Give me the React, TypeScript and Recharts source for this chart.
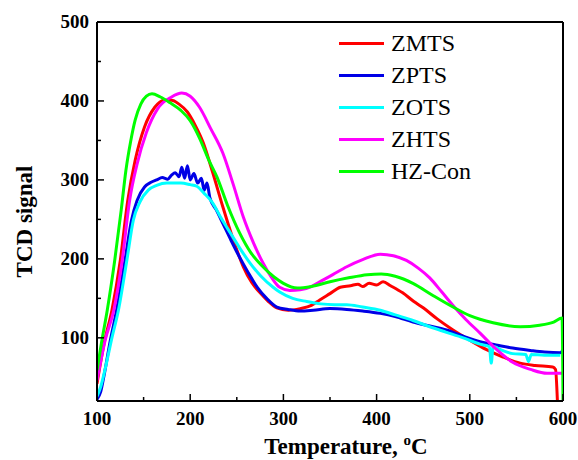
import { Legend, Line, LineChart, ReferenceLine, XAxis, YAxis } from "recharts";

const FONT = "Liberation Serif, Times New Roman, serif";

const xTicks = [100, 150, 200, 250, 300, 350, 400, 450, 500, 550, 600];
const yTicks = [100, 150, 200, 250, 300, 350, 400, 450, 500];

const zmts = [
  { t: 100, v: 42 }, { t: 108, v: 95 }, { t: 116, v: 135 }, { t: 125, v: 198 }, { t: 133, v: 274 },
  { t: 141, v: 325 }, { t: 151, v: 367 }, { t: 162, v: 392 }, { t: 172, v: 401 }, { t: 180, v: 401 },
  { t: 188, v: 396 }, { t: 197, v: 386 }, { t: 205, v: 370 }, { t: 214, v: 347 },
  { t: 224, v: 310 }, { t: 235, v: 266 }, { t: 246, v: 225 }, { t: 257, v: 190 }, { t: 266, v: 170 },
  { t: 275, v: 157 }, { t: 284, v: 146 }, { t: 293, v: 138 }, { t: 305, v: 135 }, { t: 318, v: 137 },
  { t: 330, v: 141 }, { t: 339, v: 148 }, { t: 350, v: 156 }, { t: 361, v: 164 }, { t: 372, v: 166 },
  { t: 380, v: 168 }, { t: 385, v: 165 }, { t: 392, v: 169 }, { t: 400, v: 167 }, { t: 407, v: 171 },
  { t: 415, v: 166 }, { t: 428, v: 157 }, { t: 440, v: 146 }, { t: 450, v: 138 }, { t: 465, v: 124 },
  { t: 482, v: 110 }, { t: 500, v: 97 }, { t: 518, v: 85 }, { t: 535, v: 76 }, { t: 554, v: 68 },
  { t: 570, v: 65 }, { t: 589, v: 63 }, { t: 592, v: 60 }, { t: 594, v: 20 },
];

const zpts = [
  { t: 100, v: 22 }, { t: 104, v: 32 }, { t: 108, v: 55 }, { t: 114, v: 95 }, { t: 121, v: 135 },
  { t: 130, v: 198 }, { t: 137, v: 249 }, { t: 143, v: 274 }, { t: 151, v: 291 }, { t: 158, v: 297 },
  { t: 164, v: 300 }, { t: 170, v: 303 }, { t: 176, v: 301 }, { t: 180, v: 306 }, { t: 184, v: 309 },
  { t: 188, v: 304 }, { t: 191, v: 316 }, { t: 194, v: 302 }, { t: 197, v: 318 }, { t: 200, v: 300 },
  { t: 204, v: 308 }, { t: 208, v: 296 }, { t: 212, v: 302 }, { t: 215, v: 287 }, { t: 218, v: 296 },
  { t: 221, v: 278 }, { t: 228, v: 262 }, { t: 235, v: 245 }, { t: 244, v: 223 }, { t: 253, v: 202 },
  { t: 262, v: 183 }, { t: 272, v: 164 }, { t: 282, v: 150 }, { t: 293, v: 139 }, { t: 305, v: 136 },
  { t: 318, v: 134 }, { t: 332, v: 135 }, { t: 350, v: 137 }, { t: 368, v: 136 }, { t: 385, v: 134 },
  { t: 404, v: 131 }, { t: 420, v: 127 }, { t: 439, v: 120 }, { t: 457, v: 115 }, { t: 475, v: 110 },
  { t: 493, v: 102 }, { t: 511, v: 95 }, { t: 528, v: 91 }, { t: 546, v: 87 }, { t: 565, v: 84 },
  { t: 580, v: 82 }, { t: 597, v: 81 }, { t: 600, v: 85 },
];

const zots = [
  { t: 100, v: 26 }, { t: 104, v: 38 }, { t: 109, v: 62 }, { t: 116, v: 100 }, { t: 123, v: 135 },
  { t: 132, v: 198 }, { t: 139, v: 249 }, { t: 146, v: 272 }, { t: 155, v: 287 },
  { t: 164, v: 293 }, { t: 175, v: 296 }, { t: 190, v: 296 }, { t: 200, v: 294 }, { t: 207, v: 292 },
  { t: 215, v: 283 }, { t: 224, v: 271 }, { t: 233, v: 252 }, { t: 243, v: 233 }, { t: 253, v: 214 },
  { t: 264, v: 195 }, { t: 276, v: 178 }, { t: 289, v: 164 }, { t: 296, v: 158 }, { t: 310, v: 150 },
  { t: 325, v: 146 }, { t: 340, v: 143 }, { t: 355, v: 142 }, { t: 368, v: 142 }, { t: 385, v: 139 },
  { t: 404, v: 135 }, { t: 420, v: 129 }, { t: 439, v: 122 }, { t: 457, v: 114 }, { t: 475, v: 107 },
  { t: 493, v: 100 }, { t: 511, v: 92 }, { t: 521, v: 89 }, { t: 523, v: 68 }, { t: 525, v: 89 },
  { t: 535, v: 84 }, { t: 546, v: 80 }, { t: 560, v: 79 }, { t: 563, v: 70 }, { t: 566, v: 79 },
  { t: 580, v: 78 }, { t: 597, v: 78 },
];

const zhts = [
  { t: 100, v: 46 }, { t: 109, v: 98 }, { t: 118, v: 135 }, { t: 127, v: 198 }, { t: 135, v: 274 },
  { t: 143, v: 320 }, { t: 153, v: 360 }, { t: 165, v: 390 }, { t: 180, v: 405 },
  { t: 191, v: 410 }, { t: 200, v: 406 }, { t: 210, v: 392 }, { t: 222, v: 365 }, { t: 235, v: 334 },
  { t: 246, v: 295 }, { t: 257, v: 253 }, { t: 268, v: 220 }, { t: 278, v: 195 }, { t: 287, v: 177 },
  { t: 296, v: 164 }, { t: 307, v: 160 }, { t: 318, v: 161 }, { t: 330, v: 165 }, { t: 339, v: 171 },
  { t: 353, v: 180 }, { t: 368, v: 190 }, { t: 385, v: 199 }, { t: 404, v: 206 }, { t: 418, v: 204 },
  { t: 432, v: 198 }, { t: 445, v: 188 }, { t: 457, v: 176 }, { t: 470, v: 158 }, { t: 482, v: 141 },
  { t: 496, v: 123 }, { t: 511, v: 106 }, { t: 528, v: 86 }, { t: 546, v: 69 }, { t: 565, v: 60 },
  { t: 583, v: 55 }, { t: 600, v: 55 },
];

const hzCon = [
  { t: 100, v: 59 }, { t: 105, v: 95 }, { t: 111, v: 135 }, { t: 119, v: 198 }, { t: 126, v: 262 },
  { t: 131, v: 312 }, { t: 136, v: 348 }, { t: 141, v: 376 }, { t: 147, v: 396 }, { t: 153, v: 406 },
  { t: 159, v: 409 }, { t: 168, v: 405 }, { t: 178, v: 398 }, { t: 190, v: 388 }, { t: 200, v: 375 },
  { t: 210, v: 353 }, { t: 220, v: 325 }, { t: 229, v: 303 }, { t: 240, v: 268 }, { t: 253, v: 233 },
  { t: 265, v: 208 }, { t: 278, v: 190 }, { t: 290, v: 177 }, { t: 300, v: 169 }, { t: 315, v: 163 },
  { t: 330, v: 165 }, { t: 350, v: 171 }, { t: 370, v: 176 }, { t: 390, v: 180 }, { t: 405, v: 181 },
  { t: 420, v: 178 }, { t: 439, v: 169 }, { t: 460, v: 154 }, { t: 482, v: 139 }, { t: 500, v: 128 },
  { t: 525, v: 119 }, { t: 554, v: 114 }, { t: 575, v: 116 }, { t: 590, v: 120 }, { t: 599, v: 125 },
  { t: 600, v: 20 },
];

const series = [
  { name: "ZMTS", data: zmts, color: "#ff0000" },
  { name: "ZPTS", data: zpts, color: "#0000e6" },
  { name: "ZOTS", data: zots, color: "#00ffff" },
  { name: "ZHTS", data: zhts, color: "#ff00ff" },
  { name: "HZ-Con", data: hzCon, color: "#00ff00" },
];

function XTick(props: any) {
  const { x, y, payload } = props;
  const major = payload.value % 100 === 0;
  return (
    <g>
      <line x1={x} x2={x} y1={y} y2={y - (major ? 7 : 4)} stroke="#000" strokeWidth={1.5} />
      {major && (
        <text x={x} y={y + 24} textAnchor="middle" fontFamily={FONT} fontWeight="bold" fontSize={19} fill="#000">
          {payload.value}
        </text>
      )}
    </g>
  );
}

function YTick(props: any) {
  const { x, y, payload } = props;
  const major = payload.value % 100 === 0;
  return (
    <g>
      <line x1={x} x2={x + (major ? 7 : 4)} y1={y} y2={y} stroke="#000" strokeWidth={1.5} />
      {major && (
        <text x={x - 8} y={y + 6} textAnchor="end" fontFamily={FONT} fontWeight="bold" fontSize={19} fill="#000">
          {payload.value}
        </text>
      )}
    </g>
  );
}

function XLabel(props: any) {
  const { x, y, width } = props.viewBox;
  return (
    <text x={x + width / 2 + 16} y={y + 53} textAnchor="middle" fontFamily={FONT} fontWeight="bold" fontSize={23} fill="#000">
      Temperature,{" "}
      <tspan fontSize={15} dy={-9}>o</tspan>
      <tspan dy={9}>C</tspan>
    </text>
  );
}

function YLabel(props: any) {
  const { x, y, height } = props.viewBox;
  const cx = x + 32;
  const cy = y + height / 2 + 10;
  return (
    <text x={cx} y={cy} transform={`rotate(-90 ${cx} ${cy})`} textAnchor="middle" fontFamily={FONT} fontWeight="bold" fontSize={23} fill="#000">
      TCD signal
    </text>
  );
}

// legend keeps the plotting order, not alphabetical
function LegendBox() {
  return (
    <div style={{ fontFamily: FONT, fontSize: 24, color: "#000" }}>
      {series.map((s) => (
        <div key={s.name} style={{ display: "flex", alignItems: "center", height: 32 }}>
          <span style={{ display: "inline-block", width: 45, height: 3, background: s.color, marginRight: 7 }} />
          <span style={{ lineHeight: "32px" }}>{s.name}</span>
        </div>
      ))}
    </div>
  );
}

export default function App() {
  return (
    <div style={{ position: "absolute", left: 0, top: 0, background: "#fff" }}>
      <LineChart width={578} height={460} margin={{ top: 22, right: 15, left: 0, bottom: 0 }}>
        <XAxis
          type="number"
          dataKey="t"
          domain={[100, 600]}
          ticks={xTicks}
          tick={<XTick />}
          tickSize={0}
          tickMargin={0}
          height={59}
          axisLine={{ stroke: "#000", strokeWidth: 2 }}
          allowDataOverflow
          label={<XLabel />}
        />
        <YAxis
          type="number"
          domain={[20, 500]}
          ticks={yTicks}
          tick={<YTick />}
          tickSize={0}
          tickMargin={0}
          width={97}
          axisLine={{ stroke: "#000", strokeWidth: 2 }}
          allowDataOverflow
          label={<YLabel />}
        />
        <ReferenceLine y={500} stroke="#000" strokeWidth={2} />
        <ReferenceLine x={600} stroke="#000" strokeWidth={2} />
        {series.map((s) => (
          <Line
            key={s.name}
            data={s.data}
            dataKey="v"
            name={s.name}
            type="monotone"
            stroke={s.color}
            strokeWidth={3}
            dot={false}
            activeDot={false}
            isAnimationActive={false}
          />
        ))}
        <Legend
          layout="vertical"
          align="center"
          verticalAlign="middle"
          content={<LegendBox />}
          wrapperStyle={{ position: "absolute", top: 27, left: 339, width: 200 }}
        />
      </LineChart>
    </div>
  );
}
